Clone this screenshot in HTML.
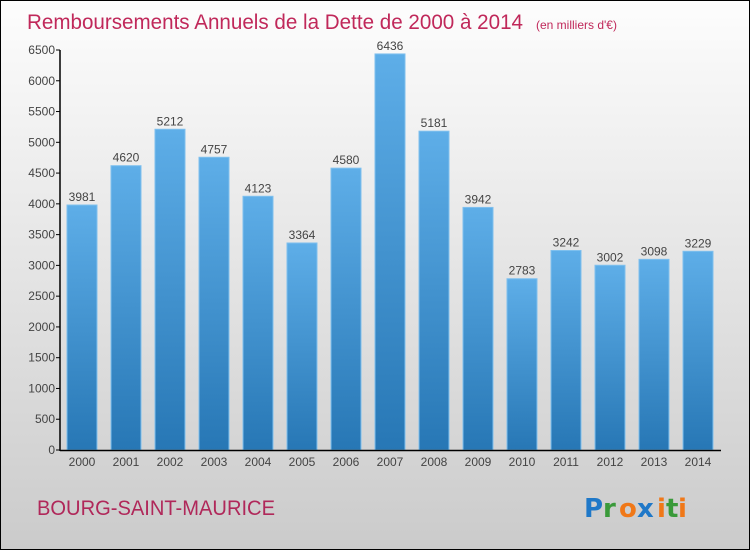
<!DOCTYPE html>
<html><head><meta charset="utf-8"><style>
html,body{margin:0;padding:0}
body{width:750px;height:550px;overflow:hidden;font-family:"Liberation Sans",sans-serif}
#wrap{position:relative;width:748px;height:548px;border:1px solid #000;background:linear-gradient(#fdfdfd,#cbcbcb)}
svg{position:absolute;left:0;top:0}
</style></head><body>
<div id="wrap">
<svg id="c" width="748" height="548">
<defs><linearGradient id="g" x1="0" y1="0" x2="0" y2="1"><stop offset="0" stop-color="#5eaee8"/><stop offset="1" stop-color="#2777b5"/></linearGradient></defs>
<text x="26" y="28" font-size="21" fill="#c0285a" textLength="496" lengthAdjust="spacingAndGlyphs">Remboursements Annuels de la Dette de 2000 à 2014</text>
<text x="535" y="28" font-size="12" fill="#c0285a">(en milliers d'€)</text>
<text x="36" y="514" font-size="21" fill="#b0285a" textLength="238" lengthAdjust="spacingAndGlyphs">BOURG-SAINT-MAURICE</text>
<g font-size="26" font-weight="bold" font-family="'DejaVu Sans',sans-serif">
<text x="583" y="516" fill="#1f78c8">P</text><text x="602" y="516" fill="#3a9a3a">r</text><text x="618" y="516" fill="#f07818">o</text><text x="636" y="516" fill="#1f78c8">x</text><text x="656" y="516" fill="#f07818">i</text><text x="665" y="516" fill="#3a9a3a">t</text><text x="677" y="516" fill="#f07818">i</text>
</g>
</svg>
</div>
<script>
const categories=["2000","2001","2002","2003","2004","2005","2006","2007","2008","2009","2010","2011","2012","2013","2014"];
const values=[3981,4620,5212,4757,4123,3364,4580,6436,5181,3942,2783,3242,3002,3098,3229];
const yTicks=[0,500,1000,1500,2000,2500,3000,3500,4000,4500,5000,5500,6000,6500];
const NS="http://www.w3.org/2000/svg";
const svg=document.getElementById('c');
const y0=449,yTop=49,yMax=6500,axX=59,x0=66,step=44,bw=30;
const ys=v=>y0-(y0-yTop)*v/yMax;
const xs=i=>x0+i*step;
function mk(t,a){const e=document.createElementNS(NS,t);for(const k in a)e.setAttribute(k,a[k]);svg.appendChild(e);return e;}
values.forEach((v,i)=>{
const r=mk('rect',{x:xs(i),y:ys(v),width:bw,height:y0-ys(v),fill:'url(#g)',stroke:'#7fc0ee','stroke-width':1});


const t=mk('text',{x:xs(i)+bw/2,y:ys(v)-4,'font-size':12,fill:'#444','text-anchor':'middle'});
t.textContent=v;


const c=mk('text',{x:xs(i)+bw/2,y:y0+16,'font-size':12,fill:'#444','text-anchor':'middle'});
c.textContent=categories[i];


});
yTicks.forEach(v=>{
mk('line',{x1:axX-4,x2:axX,y1:ys(v),y2:ys(v),stroke:'#000'});
const t=mk('text',{x:axX-5,y:ys(v)+4,'font-size':12,fill:'#444','text-anchor':'end'});
t.textContent=v;


});
const ya=mk('line',{x1:axX,x2:axX,y1:yTop,y2:y0+1,stroke:'#000','stroke-width':1.5});


const xa=mk('line',{x1:axX,x2:720,y1:y0+0.5,y2:y0+0.5,stroke:'#000','stroke-width':1.5});


</script>
</body></html>
